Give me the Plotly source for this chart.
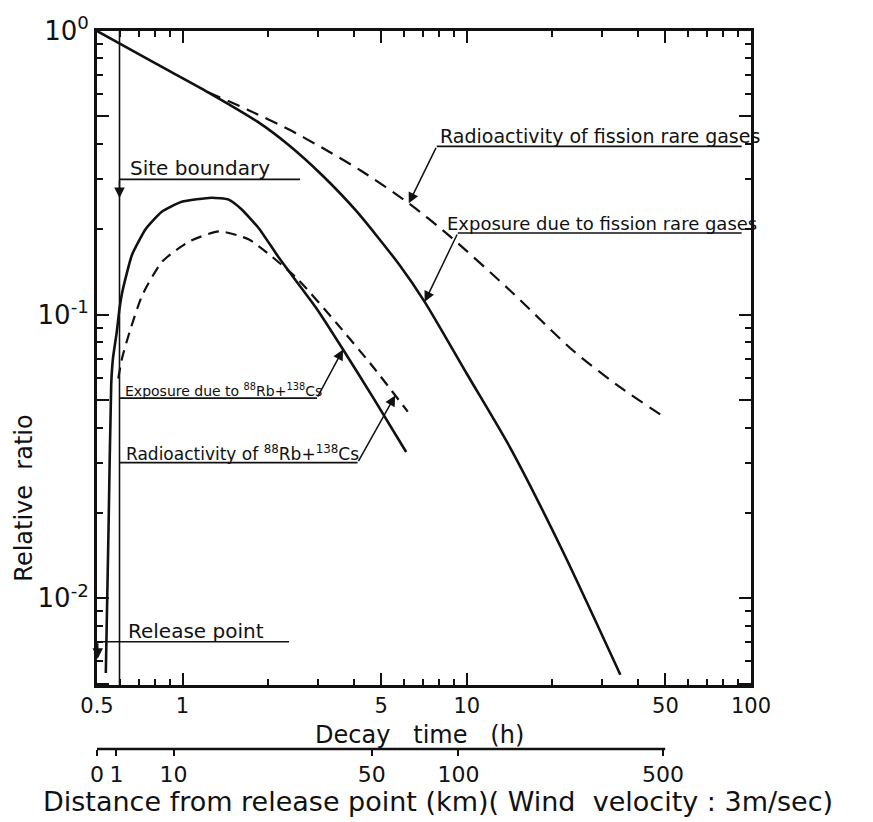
import math
import plotly.graph_objects as go

# ---- data ---------------------------------------------------------------
# Decay time (h) and relative ratio, fission rare gases
t_expo_gas = [0.5, 0.8, 1.23, 1.84, 2.35, 3.08, 4.07, 5.79, 7.11, 10.05, 14.3, 21.7, 34.7]
r_expo_gas = [1.0, 0.77, 0.608, 0.478, 0.398, 0.312, 0.233, 0.150, 0.111, 0.0614, 0.0336, 0.01475, 0.00538]

t_act_gas = [1.23, 1.70, 2.35, 3.08, 4.26, 6.25, 8.67, 14.2, 23.7, 34.8, 49.5]
r_act_gas = [0.608, 0.527, 0.451, 0.389, 0.321, 0.247, 0.190, 0.1217, 0.0746, 0.0553, 0.0436]

# 88Rb + 138Cs
t_expo_rbcs = [0.537, 0.549, 0.561, 0.569, 0.587, 0.600, 0.614, 0.664, 0.743, 0.845, 0.993,
               1.265, 1.453, 1.615, 1.857, 2.19, 2.965, 3.67, 4.70, 6.12]
r_expo_rbcs = [0.00546, 0.0176, 0.0568, 0.0701, 0.0872, 0.105, 0.1205, 0.1626, 0.2007, 0.2305, 0.250,
               0.2584, 0.2545, 0.235, 0.2014, 0.158, 0.105, 0.0754, 0.0507, 0.0328]

t_act_rbcs = [0.594, 0.612, 0.652, 0.723, 0.848, 1.054, 1.343, 1.713, 2.516, 3.49, 4.69, 6.20]
r_act_rbcs = [0.0596, 0.070, 0.0873, 0.1177, 0.1538, 0.181, 0.1965, 0.184, 0.1347, 0.0931, 0.0653, 0.0455]

# axis ticks
x_major = [0.5, 1, 5, 10, 50, 100]
x_major_text = ["0.5", "1", "5", "10", "50", "100"]
x_minor = [0.6, 0.7, 0.8, 0.9, 2, 3, 4, 6, 7, 8, 9, 20, 30, 40, 60, 70, 80, 90]
y_major = [0.005, 0.01, 0.05, 0.1, 0.5, 1]
y_major_text = ["", "10<sup>-2</sup>", "", "10<sup>-1</sup>", "", "10<sup>0</sup>"]
y_minor = [0.006, 0.007, 0.008, 0.009, 0.02, 0.03, 0.04, 0.06, 0.07, 0.08, 0.09,
           0.2, 0.3, 0.4, 0.6, 0.7, 0.8, 0.9]

# distance scale (km) placed at its decay-time position (h)
dist_km_text = ["0", "1", "10", "50", "100", "500"]
dist_at_hours = [0.5, 0.585, 0.93, 4.63, 9.35, 49.0]
dist_axis_end_h = 49.9

site_boundary_h = 0.60
release_point_h = 0.5

X_RANGE = [math.log10(0.5), 2.0]
Y_RANGE = [-2.306, 0.0]

FONT = "DejaVu Sans"
INK = "#111111"

fig = go.Figure()

fig.add_trace(go.Scatter(x=t_expo_gas, y=r_expo_gas, mode="lines",
                         line=dict(color=INK, width=2.6, shape="spline", smoothing=0.7)))
fig.add_trace(go.Scatter(x=t_act_gas, y=r_act_gas, mode="lines",
                         line=dict(color=INK, width=2.2, dash="13px,8px", shape="spline", smoothing=0.7)))
fig.add_trace(go.Scatter(x=t_expo_rbcs, y=r_expo_rbcs, mode="lines",
                         line=dict(color=INK, width=2.6, shape="spline", smoothing=0.5)))
fig.add_trace(go.Scatter(x=t_act_rbcs, y=r_act_rbcs, mode="lines",
                         line=dict(color=INK, width=2.2, dash="11px,7px", shape="spline", smoothing=0.6)))
# carrier for the distance axis
fig.add_trace(go.Scatter(x=[1], y=[0.1], xaxis="x2", yaxis="y", mode="markers",
                         marker=dict(opacity=0), hoverinfo="skip"))

L, R, T, B = 97, 122, 29, 73
H_PAPER = 822 - T - B
y_dom0 = (749 - 685) / H_PAPER

fig.update_layout(
    width=873, height=822,
    margin=dict(l=L, r=R, t=T, b=B),
    paper_bgcolor="white", plot_bgcolor="white",
    showlegend=False,
    font=dict(family=FONT, color=INK),
    xaxis=dict(type="log", range=X_RANGE, domain=[0, 1], anchor="y",
               showline=True, linewidth=3, linecolor=INK, mirror="ticks",
               ticks="inside", ticklen=12, tickwidth=2, tickcolor=INK,
               tickvals=x_major, ticktext=x_major_text,
               tickfont=dict(size=21, family=FONT, color=INK),
               minor=dict(tickvals=x_minor, ticks="inside", ticklen=6, tickwidth=2,
                          tickcolor=INK, showgrid=False),
               showgrid=False, zeroline=False),
    xaxis2=dict(type="log", range=X_RANGE, overlaying="x", anchor="free", position=0,
                side="bottom", showline=False, showgrid=False, zeroline=False,
                ticks="outside", ticklen=6, tickwidth=2, tickcolor=INK,
                tickvals=dist_at_hours, ticktext=dist_km_text,
                tickfont=dict(size=22, family=FONT, color=INK)),
    yaxis=dict(type="log", range=Y_RANGE, domain=[y_dom0, 1],
               showline=True, linewidth=3, linecolor=INK, mirror="ticks",
               ticks="inside", ticklen=12, tickwidth=2, tickcolor=INK,
               tickvals=y_major, ticktext=y_major_text,
               tickfont=dict(size=26, family=FONT, color=INK),
               minor=dict(tickvals=y_minor, ticks="inside", ticklen=6, tickwidth=2,
                          tickcolor=INK, showgrid=False),
               showgrid=False, zeroline=False),
)

shapes = []


def hline(x0, x1, y, width=1.6):
    shapes.append(dict(type="line", xref="x", yref="y", x0=x0, x1=x1, y0=y, y1=y,
                       line=dict(color=INK, width=width)))


# site boundary vertical line
shapes.append(dict(type="line", xref="x", yref="y domain", x0=site_boundary_h, x1=site_boundary_h,
                   y0=0, y1=1, line=dict(color=INK, width=1.6)))
# distance scale line
shapes.append(dict(type="line", xref="x", yref="paper", x0=release_point_h, x1=dist_axis_end_h,
                   y0=0, y1=0, line=dict(color=INK, width=2.5)))

lg = math.log10
annotations = []


def label(text, x, y, size):
    annotations.append(dict(text=text, x=lg(x), y=lg(y), xref="x", yref="y",
                            xanchor="left", yanchor="bottom", yshift=-3, showarrow=False,
                            font=dict(size=size, family=FONT, color=INK)))


def arrow(x_tip, y_tip, x_tail, y_tail):
    annotations.append(dict(text="", x=lg(x_tip), y=lg(y_tip), xref="x", yref="y",
                            ax=lg(x_tail), ay=lg(y_tail), axref="x", ayref="y",
                            showarrow=True, arrowhead=2, arrowsize=1.4, arrowwidth=1.5,
                            arrowcolor=INK, standoff=0, startstandoff=0))


# Radioactivity of fission rare gases
hline(7.84, 92.7, 0.392)
label("Radioactivity of fission rare gases", 7.9, 0.392, 19)
arrow(6.25, 0.247, 7.84, 0.392)

# Exposure due to fission rare gases
hline(9.30, 92.7, 0.194)
label("Exposure due to fission rare gases", 8.37, 0.194, 18)
arrow(7.11, 0.111, 9.30, 0.194)

# Site boundary
hline(site_boundary_h, 2.59, 0.300)
label("Site boundary", 0.643, 0.300, 20)
arrow(site_boundary_h, 0.2576, site_boundary_h, 0.300)

# Release point
hline(release_point_h, 2.37, 0.00703)
label("Release point", 0.632, 0.00703, 20)
arrow(0.503, 0.00613, 0.503, 0.00703)

# Exposure due to 88Rb + 138Cs
hline(site_boundary_h, 2.97, 0.0508)
label("Exposure due to <sup>88</sup>Rb+<sup>138</sup>Cs", 0.617, 0.0508, 14)
arrow(3.67, 0.0754, 2.97, 0.0508)

# Radioactivity of 88Rb + 138Cs
hline(site_boundary_h, 4.13, 0.0301)
label("Radioactivity of <sup>88</sup>Rb+<sup>138</sup>Cs", 0.62, 0.0301, 17)
arrow(5.6, 0.0519, 4.13, 0.0301)


def px_to_paper(px, py):
    return (px - L) / (873 - L - R), (822 - B - py) / H_PAPER


for text, px, py, size, angle in [
    ("Decay   time   (h)", 419, 735, 24, 0),
    ("Distance from release point (km)( Wind  velocity : 3m/sec)", 438, 802, 27, 0),
    ("Relative  ratio", 24, 498, 24, -90),
]:
    xp, yp = px_to_paper(px, py)
    annotations.append(dict(text=text, x=xp, y=yp, xref="paper", yref="paper",
                            xanchor="center", yanchor="middle", showarrow=False,
                            textangle=angle, font=dict(size=size, family=FONT, color=INK)))

fig.update_layout(shapes=shapes, annotations=annotations)
fig.write_html("out.html")
